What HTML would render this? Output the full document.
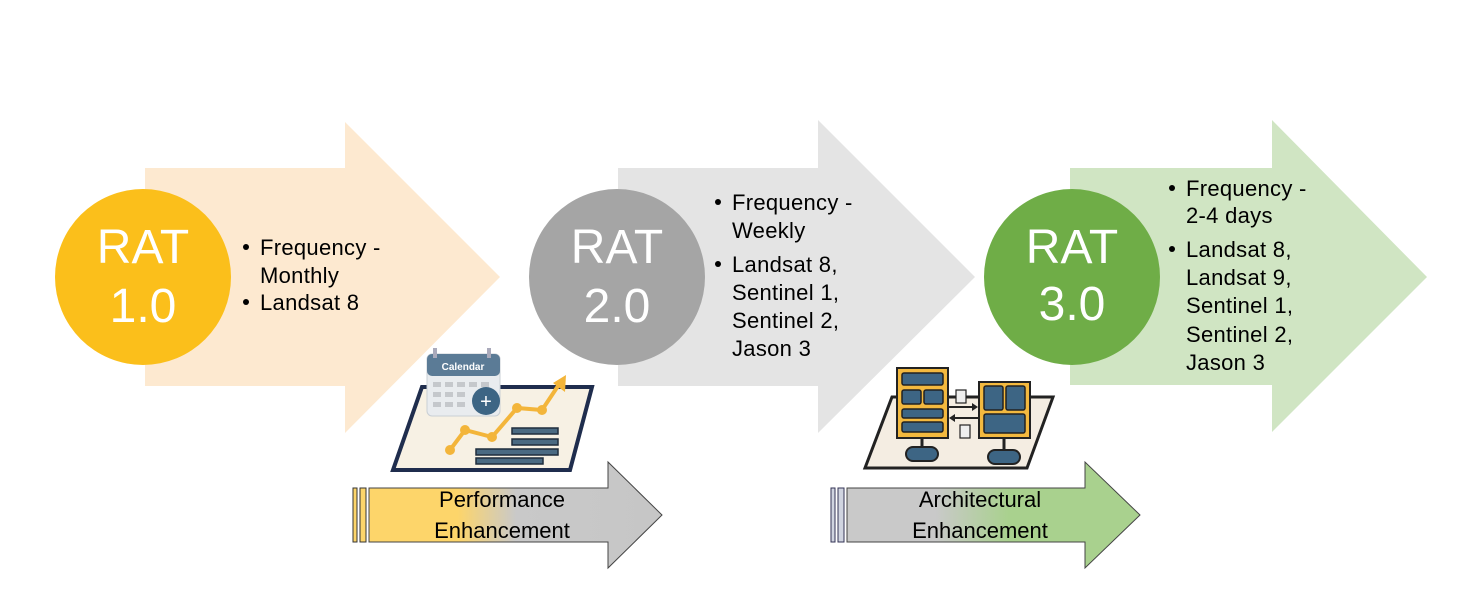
<!DOCTYPE html>
<html><head><meta charset="utf-8"><style>
html,body{margin:0;padding:0;background:#fff;}
svg{display:block;}
text{font-family:"Liberation Sans",sans-serif;}
</style></head><body>
<svg width="1479" height="591" viewBox="0 0 1479 591" xmlns="http://www.w3.org/2000/svg">
<defs>
<linearGradient id="g1" x1="370" y1="0" x2="662" y2="0" gradientUnits="userSpaceOnUse">
<stop offset="0" stop-color="#fdd56a"/><stop offset="0.3" stop-color="#fdd56a"/><stop offset="0.5" stop-color="#c9c9c9"/><stop offset="1" stop-color="#c6c6c6"/></linearGradient>
<linearGradient id="g2" x1="848" y1="0" x2="1140" y2="0" gradientUnits="userSpaceOnUse">
<stop offset="0" stop-color="#c9c9c9"/><stop offset="0.3" stop-color="#c9c9c9"/><stop offset="0.55" stop-color="#a9d18e"/><stop offset="1" stop-color="#a9d18e"/></linearGradient>
</defs>
<polygon points="145,168 345,168 345,122 500,277 345,433 345,386 145,386" fill="#fde9d0"/>
<polygon points="618,168 818,168 818,120 975,277 818,433 818,386 618,386" fill="#e4e4e4"/>
<polygon points="1070,168 1272,168 1272,120 1427,277 1272,432 1272,385 1070,385" fill="#d0e5c3"/>
<circle cx="143" cy="277" r="88" fill="#fbbf1b"/>
<circle cx="617" cy="277" r="88" fill="#a5a5a5"/>
<circle cx="1072" cy="277" r="88" fill="#6fad47"/>
<g fill="#fff" font-size="48" text-anchor="middle">
<text x="143" y="263">RAT</text><text x="143" y="322">1.0</text>
<text x="617" y="263">RAT</text><text x="617" y="322">2.0</text>
<text x="1072" y="263">RAT</text><text x="1072" y="320">3.0</text>
</g>
<g font-size="22" fill="#000" letter-spacing="0.3">
<circle cx="246" cy="247" r="3"/><text x="260" y="255">Frequency -</text><text x="260" y="283">Monthly</text>
<circle cx="246" cy="302" r="3"/><text x="260" y="310">Landsat 8</text>

<circle cx="718" cy="202" r="3"/><text x="732" y="210">Frequency -</text><text x="732" y="238">Weekly</text>
<circle cx="718" cy="264" r="3"/><text x="732" y="272">Landsat 8,</text><text x="732" y="300">Sentinel 1,</text><text x="732" y="328">Sentinel 2,</text><text x="732" y="356">Jason 3</text>

<circle cx="1172" cy="188" r="3"/><text x="1186" y="196">Frequency -</text><text x="1186" y="223">2-4 days</text>
<circle cx="1172" cy="249" r="3"/><text x="1186" y="257">Landsat 8,</text><text x="1186" y="285">Landsat 9,</text><text x="1186" y="313">Sentinel 1,</text><text x="1186" y="342">Sentinel 2,</text><text x="1186" y="370">Jason 3</text>
</g>
<polygon points="422,387 592,387 570,470 393,470" fill="#f7f1e4" stroke="#1f2d4d" stroke-width="4"/>
<rect x="427" y="354" width="73" height="62" rx="5" fill="#e9ecef" stroke="#c9cfd5"/>
<rect x="427" y="354" width="73" height="22" rx="5" fill="#5b7b96"/>
<rect x="433" y="348" width="4" height="10" fill="#aab" /><rect x="487" y="348" width="4" height="10" fill="#aab"/>
<text x="463" y="370" font-size="10" font-weight="bold" fill="#fff" text-anchor="middle">Calendar</text>
<g fill="#c5c8cc">
<rect x="433" y="382" width="8" height="5"/><rect x="445" y="382" width="8" height="5"/><rect x="457" y="382" width="8" height="5"/><rect x="469" y="382" width="8" height="5"/><rect x="481" y="382" width="8" height="5"/>
<rect x="433" y="392" width="8" height="5"/><rect x="445" y="392" width="8" height="5"/><rect x="457" y="392" width="8" height="5"/>
<rect x="433" y="402" width="8" height="5"/><rect x="445" y="402" width="8" height="5"/><rect x="457" y="402" width="8" height="5"/>
</g>
<circle cx="486" cy="401" r="14" fill="#3d6584"/>
<text x="486" y="408" font-size="20" fill="#fff" text-anchor="middle">+</text>
<polyline points="450,450 465,430 492,437 517,408 542,410 560,383" fill="none" stroke="#f3b53a" stroke-width="4"/>
<polygon points="553,383 566,375 565,392" fill="#f3b53a"/>
<g fill="#f3b53a"><circle cx="450" cy="450" r="5"/><circle cx="465" cy="430" r="5"/><circle cx="492" cy="437" r="5"/><circle cx="517" cy="408" r="5"/><circle cx="542" cy="410" r="5"/></g>
<g fill="#4a6a82" stroke="#1f2d3d" stroke-width="1.5">
<rect x="512" y="428" width="46" height="6"/><rect x="512" y="439" width="46" height="6"/><rect x="476" y="449" width="82" height="6"/><rect x="476" y="458" width="67" height="6"/>
</g>
<polygon points="892,397 1053,397 1027,468 865,468" fill="#f4ede2" stroke="#222" stroke-width="3"/>
<line x1="922" y1="438" x2="922" y2="448" stroke="#222" stroke-width="3"/>
<line x1="1004" y1="438" x2="1004" y2="450" stroke="#222" stroke-width="3"/>
<rect x="906" y="447" width="32" height="14" rx="7" fill="#3d6584" stroke="#222" stroke-width="2"/>
<rect x="988" y="450" width="32" height="14" rx="7" fill="#3d6584" stroke="#222" stroke-width="2"/>
<rect x="897" y="368" width="51" height="70" fill="#f3b93f" stroke="#222" stroke-width="2"/>
<g fill="#3d6584" stroke="#222" stroke-width="1.5">
<rect x="902" y="373" width="41" height="12" rx="2"/><rect x="902" y="390" width="19" height="14" rx="2"/><rect x="924" y="390" width="19" height="14" rx="2"/><rect x="902" y="409" width="41" height="9" rx="2"/><rect x="902" y="422" width="41" height="10" rx="2"/>
</g>
<rect x="979" y="382" width="51" height="56" fill="#f3b93f" stroke="#222" stroke-width="2"/>
<g fill="#3d6584" stroke="#222" stroke-width="1.5">
<rect x="984" y="386" width="19" height="24" rx="2"/><rect x="1006" y="386" width="19" height="24" rx="2"/><rect x="984" y="414" width="41" height="19" rx="2"/>
</g>
<line x1="948" y1="407" x2="976" y2="407" stroke="#222" stroke-width="2"/><polygon points="978,407 972,403 972,411" fill="#222"/>
<line x1="951" y1="418" x2="979" y2="418" stroke="#222" stroke-width="2"/><polygon points="949,418 955,414 955,422" fill="#222"/>
<rect x="956" y="390" width="10" height="13" fill="#eee" stroke="#222" stroke-width="1.2"/>
<rect x="960" y="425" width="10" height="13" fill="#eee" stroke="#222" stroke-width="1.2"/>
<rect x="353" y="488" width="4" height="54" fill="#fdd56a" stroke="#333" stroke-width="1"/>
<rect x="360" y="488" width="6" height="54" fill="#fdd56a" stroke="#333" stroke-width="1"/>
<polygon points="369,488 608,488 608,462 662,515 608,568 608,542 369,542" fill="url(#g1)" stroke="#444" stroke-width="1"/>
<text x="502" y="507" font-size="22" text-anchor="middle">Performance</text>
<text x="502" y="538" font-size="22" text-anchor="middle">Enhancement</text>
<rect x="831" y="488" width="4" height="54" fill="#d0d4e0" stroke="#335" stroke-width="1"/>
<rect x="838" y="488" width="6" height="54" fill="#d0d4e0" stroke="#335" stroke-width="1"/>
<polygon points="847,488 1085,488 1085,462 1140,515 1085,568 1085,542 847,542" fill="url(#g2)" stroke="#444" stroke-width="1"/>
<text x="980" y="507" font-size="22" text-anchor="middle">Architectural</text>
<text x="980" y="538" font-size="22" text-anchor="middle">Enhancement</text>
</svg>
</body></html>
